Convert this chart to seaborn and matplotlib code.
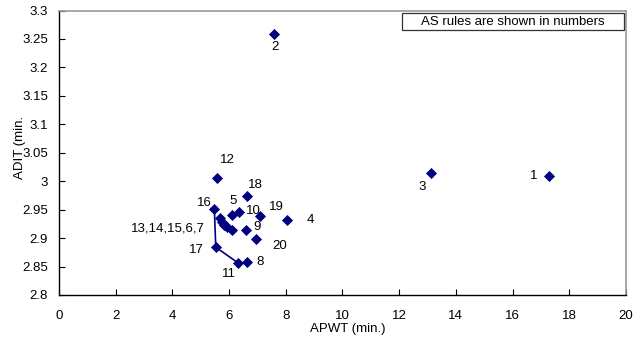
import matplotlib
matplotlib.use("Agg")
import matplotlib.pyplot as plt
from matplotlib.patches import Rectangle
import pandas as pd
import seaborn as sns

# AS rule number, APWT (min.), ADIT (min.)
rules = ["1", "2", "3", "4", "5", "6", "7", "8", "9", "10",
         "11", "12", "13", "14", "15", "16", "17", "18", "19", "20"]
apwt = [17.29, 7.58, 13.12, 8.03, 6.09, 5.94, 6.09, 6.62, 6.60, 6.36,
        6.30, 5.56, 5.68, 5.74, 5.82, 5.48, 5.53, 6.64, 7.09, 6.95]
adit = [3.010, 3.258, 3.015, 2.932, 2.941, 2.919, 2.914, 2.858, 2.915, 2.945,
        2.857, 3.005, 2.936, 2.929, 2.923, 2.952, 2.884, 2.974, 2.938, 2.898]

# frontier line drawn through rules 16 -> 17 -> 11
front = ["16", "17", "11"]

# label text and offset (points) for each annotation
labels = {
    "1": ("1", (-11, 0)), "2": ("2", (1, -9)), "3": ("3", (-6, -10)),
    "4": ("4", (17, 0)), "5": ("5", (1, 10)), "10": ("10", (10, 1)),
    "9": ("9", (8, 2)), "12": ("12", (8, 13)), "18": ("18", (6, 8)),
    "16": ("16", (-7, 4)), "19": ("19", (12, 7)), "20": ("20", (17, -5)),
    "17": ("17", (-14, -2)), "11": ("11", (-6, -8)), "8": ("8", (10, 0)),
}
cluster_label = "13,14,15,6,7"

df = pd.DataFrame({"rule": rules, "APWT": apwt, "ADIT": adit})

plt.rcParams["font.family"] = ["Liberation Sans", "DejaVu Sans"]
fs = 9.5
fig = plt.figure(figsize=(6.44, 3.39), dpi=100)
ax = fig.add_axes([0.0916, 0.1298, 0.8804, 0.8392])

f = df.set_index("rule").loc[front]
ax.plot(f["APWT"], f["ADIT"], color="#000080", lw=1.2, zorder=2)

sns.scatterplot(data=df, x="APWT", y="ADIT", marker="D", color="#000080",
                s=32, edgecolor="#000080", linewidth=0, ax=ax, zorder=3)

for r, (txt, off) in labels.items():
    row = df[df.rule == r].iloc[0]
    ax.annotate(txt, (row.APWT, row.ADIT), xytext=off, textcoords="offset points",
                ha="center", va="center", fontsize=fs)

c = df[df.rule == "14"].iloc[0]
ax.annotate(cluster_label, (c.APWT, c.ADIT), xytext=(-12, -5),
            textcoords="offset points", ha="right", va="center", fontsize=fs)

ax.set_xlim(0, 20)
ax.set_ylim(2.8, 3.3)
ax.set_xticks(range(0, 21, 2))
ax.set_yticks([2.8, 2.85, 2.9, 2.95, 3.0, 3.05, 3.1, 3.15, 3.2, 3.25, 3.3])
ax.set_yticklabels(["2.8", "2.85", "2.9", "2.95", "3", "3.05", "3.1",
                    "3.15", "3.2", "3.25", "3.3"])
ax.tick_params(direction="in", length=4, labelsize=fs, color="black")
ax.tick_params(axis="y", pad=8)
ax.tick_params(axis="x", pad=11)

for s in ["top", "right"]:
    ax.spines[s].set_color("#999999")
    ax.spines[s].set_linewidth(1.2)
for s in ["left", "bottom"]:
    ax.spines[s].set_color("black")
    ax.spines[s].set_linewidth(1.0)

ax.set_xlabel("APWT (min.)", fontsize=fs)
ax.xaxis.set_label_coords(0.51, -0.098)
ax.set_ylabel("ADIT (min.", fontsize=fs)
ax.yaxis.set_label_coords(-0.058, 0.517)

# note box in the top right corner
ax.add_patch(Rectangle((0.605, 0.931), 0.391, 0.06, transform=ax.transAxes,
                       fc="white", ec="#333333", lw=0.9, zorder=4))
ax.text(0.80, 0.961, "AS rules are shown in numbers", transform=ax.transAxes,
        ha="center", va="center", fontsize=fs, zorder=5)

fig.savefig("out.png", dpi=100)
